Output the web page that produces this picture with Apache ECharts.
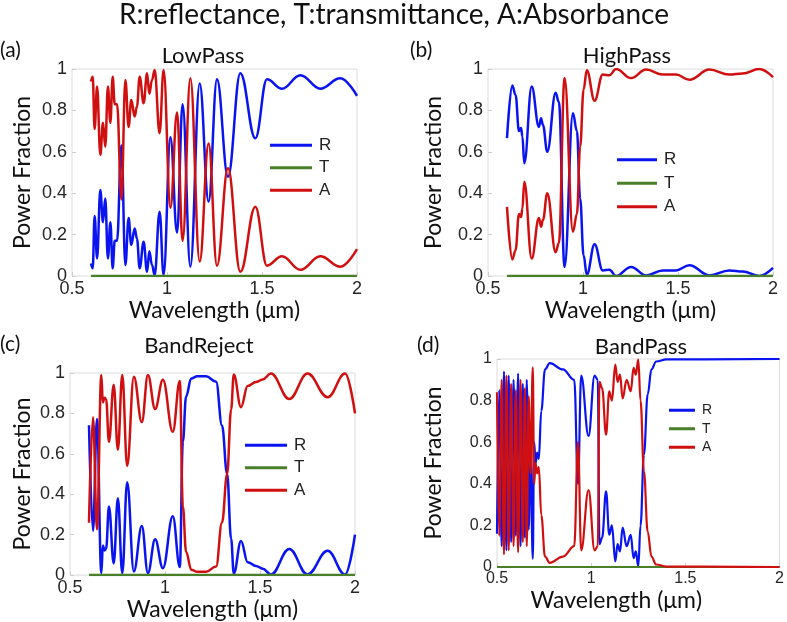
<!DOCTYPE html>
<html><head><meta charset="utf-8">
<script src="https://cdn.jsdelivr.net/npm/echarts/dist/echarts.min.js"></script>
<style>html,body{margin:0;padding:0;background:#fff}#c{width:787px;height:622px}</style>
</head><body><div id="c"></div>
<script>
// ---- data ----
const seriesNames = ['R', 'T', 'A'];
const panelTitles = ['LowPass', 'HighPass', 'BandReject', 'BandPass'];
const panelTags = ['(a)', '(b)', '(c)', '(d)'];
const mainTitle = 'R:reflectance, T:transmittance, A:Absorbance';
const xTickMin = 0.5, xTickMax = 2, xTickStep = 0.5;
const yTickMin = 0, yTickMax = 1, yTickStep = 0.2;

// (a) LowPass
const lpWl = [0.6, 0.609, 0.619, 0.632, 0.649, 0.663, 0.675, 0.689, 0.702, 0.714, 0.725, 0.737, 0.76, 0.781, 0.798, 0.812, 0.83, 0.842, 0.856, 0.877, 0.895, 0.907, 0.921, 0.935, 0.961, 0.982, 1.018, 1.053, 1.082, 1.123, 1.172, 1.219, 1.263, 1.321, 1.386, 1.465, 1.526, 1.605, 1.702, 1.807, 1.912, 2.0];
const lpR = [0.06, 0.037, 0.29, 0.085, 0.415, 0.26, 0.375, 0.085, 0.26, 0.037, 0.17, 0.17, 0.63, 0.053, 0.28, 0.15, 0.23, 0.18, 0.037, 0.165, 0.02, 0.12, 0.053, 0.005, 0.31, 0.005, 0.67, 0.21, 0.83, 0.045, 0.93, 0.36, 0.95, 0.48, 0.98, 0.665, 0.95, 0.905, 0.97, 0.905, 0.955, 0.87];
const lpA = [0.94, 0.963, 0.71, 0.915, 0.585, 0.74, 0.625, 0.915, 0.74, 0.963, 0.83, 0.83, 0.37, 0.947, 0.72, 0.85, 0.77, 0.82, 0.963, 0.835, 0.98, 0.88, 0.947, 0.995, 0.69, 0.995, 0.33, 0.79, 0.17, 0.955, 0.07, 0.64, 0.05, 0.52, 0.02, 0.335, 0.05, 0.095, 0.03, 0.095, 0.045, 0.13];
const lpTWl = [0.6, 2.0];
const lpT = [0, 0];

// (b) HighPass
const hpWl = [0.6, 0.628, 0.645, 0.663, 0.674, 0.681, 0.691, 0.73, 0.768, 0.779, 0.789, 0.812, 0.856, 0.873, 0.903, 0.947, 0.968, 0.985, 1.003, 1.02, 1.061, 1.104, 1.139, 1.174, 1.253, 1.332, 1.42, 1.49, 1.56, 1.665, 1.77, 1.84, 1.927, 2.0];
const hpR = [0.666, 0.92, 0.875, 0.70, 0.715, 0.674, 0.545, 0.916, 0.72, 0.762, 0.73, 0.60, 0.885, 0.84, 0.044, 0.786, 0.70, 0.375, 0.10, 0.006, 0.153, 0.027, 0.03, 0.0, 0.044, 0.003, 0.027, 0.027, 0.052, 0.003, 0.027, 0.022, 0.0, 0.039];
const hpA = [0.334, 0.08, 0.125, 0.30, 0.285, 0.326, 0.455, 0.084, 0.28, 0.238, 0.27, 0.40, 0.115, 0.16, 0.956, 0.214, 0.30, 0.625, 0.90, 0.994, 0.847, 0.973, 0.97, 1.0, 0.956, 0.997, 0.973, 0.973, 0.948, 0.997, 0.973, 0.978, 1.0, 0.961];
const hpTWl = [0.6, 2.0];
const hpT = [0, 0];

// (c) BandReject
const bjWl = [0.6, 0.621, 0.642, 0.665, 0.673, 0.682, 0.69, 0.705, 0.73, 0.752, 0.775, 0.801, 0.836, 0.878, 0.91, 0.948, 0.989, 1.041, 1.078, 1.094, 1.111, 1.138, 1.17, 1.216, 1.269, 1.3, 1.327, 1.348, 1.362, 1.4, 1.435, 1.479, 1.514, 1.558, 1.654, 1.75, 1.856, 1.948, 2.0];
const bjR = [0.741, 0.219, 0.773, 0.01, 0.146, 0.122, 0.13, 0.34, 0.058, 0.38, 0.01, 0.46, 0.018, 0.243, 0.01, 0.178, 0.034, 0.291, 0.04, 0.66, 0.884, 0.973, 0.984, 0.984, 0.957, 0.74, 0.5, 0.18, 0.008, 0.169, 0.064, 0.045, 0.032, 0.003, 0.129, 0.003, 0.12, 0.003, 0.2];
const bjA = [0.259, 0.781, 0.227, 0.99, 0.854, 0.878, 0.87, 0.66, 0.942, 0.62, 0.99, 0.54, 0.982, 0.757, 0.99, 0.822, 0.966, 0.709, 0.96, 0.34, 0.116, 0.027, 0.016, 0.016, 0.043, 0.26, 0.5, 0.82, 0.992, 0.831, 0.936, 0.955, 0.968, 0.997, 0.871, 0.997, 0.88, 0.997, 0.8];
const bjTWl = [0.6, 2.0];
const bjT = [0, 0];

// (d) BandPass
const bpWl = [0.5, 0.512, 0.525, 0.537, 0.55, 0.562, 0.575, 0.588, 0.6, 0.612, 0.625, 0.637, 0.648, 0.658, 0.668, 0.678, 0.69, 0.697, 0.705, 0.713, 0.722, 0.735, 0.755, 0.78, 0.85, 0.91, 0.93, 0.947, 0.986, 1.018, 1.035, 1.044, 1.058, 1.079, 1.096, 1.11, 1.128, 1.14, 1.153, 1.167, 1.188, 1.21, 1.225, 1.237, 1.25, 1.262, 1.28, 1.3, 1.32, 1.345, 1.4, 2.0];
const bpR = [0.16, 0.85, 0.10, 0.94, 0.08, 0.92, 0.12, 0.90, 0.15, 0.93, 0.10, 0.88, 0.14, 0.90, 0.18, 0.55, 0.04, 0.60, 0.50, 0.55, 0.52, 0.75, 0.95, 0.98, 0.95, 0.90, 0.40, 0.92, 0.63, 0.92, 0.90, 0.11, 0.14, 0.364, 0.155, 0.20, 0.027, 0.11, 0.075, 0.19, 0.10, 0.155, 0.043, 0.075, 0.003, 0.20, 0.54, 0.83, 0.95, 0.988, 0.998, 1.0];
const bpA = [0.84, 0.15, 0.90, 0.06, 0.92, 0.08, 0.88, 0.10, 0.85, 0.07, 0.90, 0.12, 0.86, 0.10, 0.82, 0.45, 0.96, 0.40, 0.50, 0.45, 0.48, 0.25, 0.05, 0.02, 0.05, 0.10, 0.60, 0.08, 0.37, 0.08, 0.10, 0.89, 0.86, 0.636, 0.845, 0.80, 0.973, 0.89, 0.925, 0.81, 0.90, 0.845, 0.957, 0.925, 0.997, 0.80, 0.46, 0.17, 0.05, 0.012, 0.002, 0];
const bpTWl = [0.5, 2.0];
const bpT = [0, 0];

// ---- styling / layout ----
const colors = { R: '#0a14f0', T: '#4a7f2a', A: '#d01010' };
const titleFont = 'Lato, "Open Sans", sans-serif';
const tickFont = '"Liberation Sans", Arial, sans-serif';

const panels = [
  { wl: lpWl, r: lpR, a: lpA, tw: lpTWl, t: lpT,
    grid: { left: 72, top: 69, width: 285, height: 207 },
    yGap: 38, xGap: 16, xPad: [0, 0, 0, 0], tick: 18, lw: 2.5,
    legend: { left: 270, top: 134, lh: 22.5, w: 42, fs: 17 },
    title: { x: 203, y: 45 }, tag: { x: 0, y: 40 } },
  { wl: hpWl, r: hpR, a: hpA, tw: hpTWl, t: hpT,
    grid: { left: 488, top: 69, width: 285, height: 207 },
    yGap: 43, xGap: 16, xPad: [0, 0, 0, 0], tick: 18, lw: 2.5,
    legend: { left: 617, top: 148, lh: 23.5, w: 40, fs: 17 },
    title: { x: 627, y: 45 }, tag: { x: 410, y: 40 } },
  { wl: bjWl, r: bjR, a: bjA, tw: bjTWl, t: bjT,
    grid: { left: 70, top: 373, width: 285, height: 207 },
    yGap: 36, xGap: 15, xPad: [0, 0, 0, 0], tick: 18, lw: 2.5,
    legend: { left: 245, top: 434, lh: 22.5, w: 42, fs: 17 },
    title: { x: 199, y: 335 }, tag: { x: 0, y: 334 } },
  { wl: bpWl, r: bpR, a: bpA, tw: bpTWl, t: bpT,
    grid: { left: 497, top: 359, width: 285, height: 208 },
    yGap: 52, xGap: 22, xPad: [0, 44, 0, 0], tick: 16, lw: 2.2,
    legend: { left: 669, top: 401, lh: 18.5, w: 26, fs: 14 },
    title: { x: 641, y: 336 }, tag: { x: 417, y: 335 } }
];

const zip = (xs, ys) => xs.map((x, i) => [x, ys[i]]);

const option = {
  animation: false,
  backgroundColor: '#fff',
  title: [{ text: mainTitle, left: 394, top: 1, textAlign: 'center', padding: 0,
            textStyle: { fontFamily: titleFont, fontSize: 28, fontWeight: 'normal', color: '#111' } }],
  grid: [], xAxis: [], yAxis: [], legend: [], series: []
};

panels.forEach((p, i) => {
  option.grid.push(Object.assign({ show: true, borderColor: '#dcdcdc', borderWidth: 1, containLabel: false }, p.grid));
  option.title.push({ text: panelTitles[i], left: p.title.x, top: p.title.y, textAlign: 'center', padding: 0,
    textStyle: { fontFamily: titleFont, fontSize: 22, fontWeight: 'normal', color: '#111' } });
  option.title.push({ text: panelTags[i], left: p.tag.x, top: p.tag.y, padding: 0,
    textStyle: { fontFamily: titleFont, fontSize: 21, fontWeight: 'normal', color: '#111' } });
  option.xAxis.push({
    gridIndex: i, type: 'value', min: xTickMin, max: xTickMax, interval: xTickStep,
    name: 'Wavelength (μm)', nameLocation: 'middle', nameGap: p.xGap,
    nameTextStyle: { fontFamily: titleFont, fontSize: 23, color: '#111', padding: p.xPad },
    axisLine: { show: false }, splitLine: { show: false },
    axisTick: { show: true, inside: true, length: 4, lineStyle: { color: '#cfcfcf' } },
    axisLabel: { fontFamily: tickFont, fontSize: p.tick, color: '#262626', margin: 4 }
  });
  option.yAxis.push({
    gridIndex: i, type: 'value', min: yTickMin, max: yTickMax, interval: yTickStep,
    name: 'Power Fraction', nameLocation: 'middle', nameGap: p.yGap,
    nameTextStyle: { fontFamily: titleFont, fontSize: 23, color: '#111' },
    axisLine: { show: false }, splitLine: { show: false },
    axisTick: { show: true, inside: true, length: 4, lineStyle: { color: '#cfcfcf' } },
    axisLabel: { fontFamily: tickFont, fontSize: p.tick, color: '#262626', margin: 5 }
  });
  option.legend.push({
    data: seriesNames, orient: 'vertical', left: p.legend.left, top: p.legend.top,
    padding: 0, itemGap: 0, itemWidth: p.legend.w, itemHeight: 3, icon: 'rect',
    selectedMode: false,
    textStyle: { fontFamily: tickFont, fontSize: p.legend.fs, color: '#222', lineHeight: p.legend.lh, padding: [0, 0, 0, 2] }
  });
  const common = { type: 'line', xAxisIndex: i, yAxisIndex: i, showSymbol: false, symbol: 'none',
                   smooth: 0.4, smoothMonotone: 'x' };
  option.series.push(Object.assign({}, common, { name: 'R', data: zip(p.wl, p.r),
    lineStyle: { color: colors.R, width: p.lw }, itemStyle: { color: colors.R } }));
  option.series.push(Object.assign({}, common, { name: 'T', data: zip(p.tw, p.t), smooth: false,
    lineStyle: { color: colors.T, width: p.lw }, itemStyle: { color: colors.T } }));
  option.series.push(Object.assign({}, common, { name: 'A', data: zip(p.wl, p.a),
    lineStyle: { color: colors.A, width: p.lw }, itemStyle: { color: colors.A } }));
});

const chart = echarts.init(document.getElementById('c'), null, { renderer: 'canvas' });
chart.setOption(option);
</script></body></html>
